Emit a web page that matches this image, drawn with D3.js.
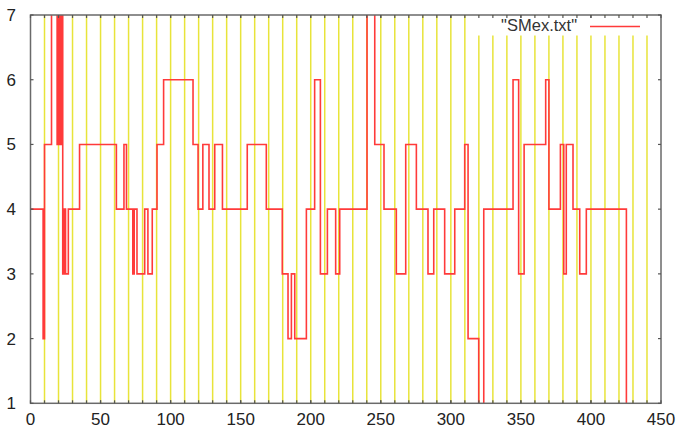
<!DOCTYPE html>
<html>
<head>
<meta charset="utf-8">
<script src="https://cdn.jsdelivr.net/npm/d3@7"></script>
<style>
html,body{margin:0;padding:0;background:#fff;}
svg{display:block;}
</style>
</head>
<body>
<script>
// ---- data ----
const stepX = [0, 9, 10, 15, 19, 20, 21, 22, 23, 24, 25, 27, 35, 61.3, 66.7, 68.5, 73, 74, 76, 81.5,
  83.8, 86.9, 90.3, 95, 116, 119.6, 123, 127.4, 131.5, 137, 154.7, 168.3, 179.7, 183.8, 186.2, 188.6,
  196.9, 202.8, 206.9, 211.9, 217.8, 220.7, 240.2, 245.7, 252.3, 261.1, 267.8, 275.4, 283.7, 287.8,
  295.6, 302.8, 309.9, 312.3, 319.9, 323.5, 344.4, 348.4, 352.3, 367.7, 370, 378.2, 380.6, 382.4,
  387.2, 392, 396.7, 425.3];
const stepY = [4, 2, 5, 8, 5, 8, 5, 8, 3, 4, 3, 4, 5, 4, 5, 4, 3, 4, 3, 4,
  3, 4, 5, 6, 5, 4, 5, 4, 5, 4, 5, 4, 3, 2, 3, 2,
  4, 6, 3, 4, 3, 4, 8, 5, 4, 3, 5, 4, 3, 4,
  3, 4, 5, 2, 0, 4, 6, 3, 5, 6, 4, 5, 3, 5,
  4, 3, 4, 0];
const markerX = [10, 20, 30, 40, 50, 60, 70, 80, 90, 100, 110, 120, 130, 140, 150, 160, 170, 180,
  190, 200, 210, 220, 230, 240, 250, 260, 270, 280, 290, 300, 310, 320, 330, 340, 350, 360, 370,
  380, 390, 400, 410, 420, 430, 440];
const xTickLabels = [0, 50, 100, 150, 200, 250, 300, 350, 400, 450];
const xMinorTicks = markerX;
const yTickLabels = [1, 2, 3, 4, 5, 6, 7];
const seriesName = '"SMex.txt"';

// ---- layout ----
const W = 677, H = 431;
const L = 30.5, R = 661, T = 15, B = 403.3;
const x = d3.scaleLinear().domain([0, 450]).range([L, R]);
const y = d3.scaleLinear().domain([1, 7]).range([B, T]);

const svg = d3.select("body").append("svg").attr("width", W).attr("height", H)
  .style("font-family", "'Liberation Sans', Arial, sans-serif");

svg.append("defs").append("clipPath").attr("id", "clip")
  .append("rect").attr("x", L).attr("y", T).attr("width", R - L).attr("height", B - T);

// yellow marker lines
svg.append("g").selectAll("line").data(markerX).join("line")
  .attr("x1", d => x(d)).attr("x2", d => x(d))
  .attr("y1", y(7)).attr("y2", y(1))
  .attr("stroke", "#e8e43a").attr("stroke-width", 1.5);

// key background (opaque)
svg.append("rect").attr("x", 471).attr("y", T + 1).attr("width", R - 471 - 1).attr("height", 19.5)
  .attr("fill", "#fff");

// red step line
const pts = stepX.map((d, i) => [d, stepY[i]]);
const line = d3.line().x(d => x(d[0])).y(d => y(d[1])).curve(d3.curveStepAfter);
svg.append("path").attr("clip-path", "url(#clip)")
  .attr("d", line(pts)).attr("fill", "none")
  .attr("stroke", "#ff3a3a").attr("stroke-width", 1.6).attr("stroke-linejoin", "miter");

// border
svg.append("rect").attr("x", L).attr("y", T).attr("width", R - L).attr("height", B - T)
  .attr("fill", "none").attr("stroke", "#6a6a6a").attr("stroke-width", 1.5);

// ticks
const tk = svg.append("g").attr("stroke", "#555").attr("stroke-width", 1.2);
tk.selectAll(".bt").data(xMinorTicks.concat(xTickLabels)).join("line")
  .attr("x1", d => x(d)).attr("x2", d => x(d)).attr("y1", B).attr("y2", B - 3);
tk.selectAll(".tt").data(xMinorTicks.concat(xTickLabels)).join("line")
  .attr("x1", d => x(d)).attr("x2", d => x(d)).attr("y1", T).attr("y2", T + 3);
tk.selectAll(".lt").data(yTickLabels).join("line")
  .attr("x1", L).attr("x2", L + 3).attr("y1", d => y(d)).attr("y2", d => y(d));
tk.selectAll(".rt").data(yTickLabels).join("line")
  .attr("x1", R).attr("x2", R - 3).attr("y1", d => y(d)).attr("y2", d => y(d));

// tick labels
svg.append("g").selectAll("text").data(xTickLabels).join("text")
  .attr("x", d => x(d)).attr("y", 425).attr("text-anchor", "middle")
  .attr("font-size", 17).attr("fill", "#222").text(d => d);
svg.append("g").selectAll("text").data(yTickLabels).join("text")
  .attr("x", 16).attr("y", d => y(d) + 6).attr("text-anchor", "end")
  .attr("font-size", 17).attr("fill", "#222").text(d => d);

// key
svg.append("text").attr("x", 577).attr("y", 31).attr("text-anchor", "end")
  .attr("font-size", 16.5).attr("fill", "#333").text(seriesName);
svg.append("line").attr("x1", 590).attr("x2", 640).attr("y1", 26.5).attr("y2", 26.5)
  .attr("stroke", "#ff3a3a").attr("stroke-width", 1.6);
</script>
</body>
</html>
